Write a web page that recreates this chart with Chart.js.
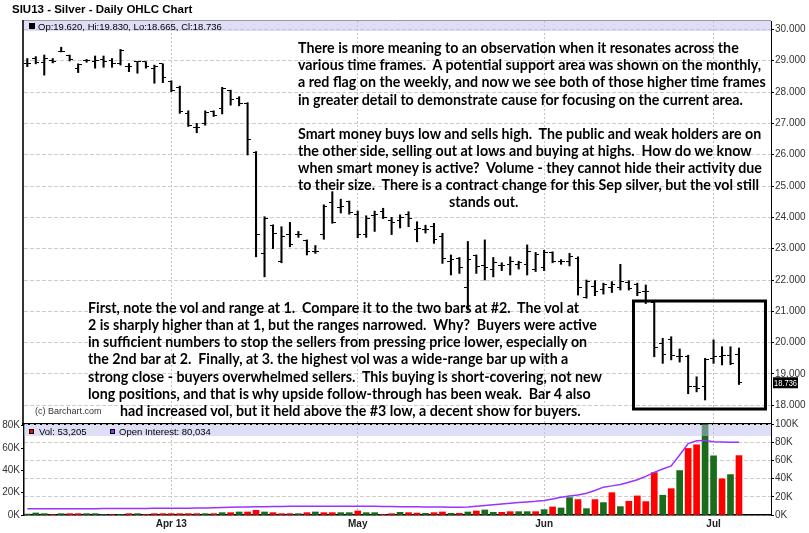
<!DOCTYPE html>
<html>
<head>
<meta charset="utf-8">
<title>SIU13 - Silver - Daily OHLC Chart</title>
<script src="https://cdn.jsdelivr.net/npm/chart.js@4.4.1/dist/chart.umd.min.js"></script>
<style>
  html, body { margin: 0; padding: 0; background: #fff; }
  #wrap { position: relative; width: 809px; height: 533px; overflow: hidden; }
  #wrap canvas { position: absolute; left: 0; top: 0; }
  .note { position: absolute; white-space: pre; font-family: Lato, sans-serif; font-weight: bold; color: #000; }
  .small { position: absolute; white-space: pre; font-family: "Liberation Sans", Arial, sans-serif; }
</style>
</head>
<body>
<div id="wrap">
  <canvas id="priceChart" width="809" height="533"></canvas>
  <canvas id="volChart" width="809" height="533"></canvas>
</div>
<script>
// trading days Mar 6 - Jul 5 2013
const dates = [
  '03/06','03/07','03/08','03/11','03/12','03/13','03/14','03/15','03/18','03/19','03/20','03/21','03/22','03/25','03/26','03/27','03/28',
  '04/01','04/02','04/03','04/04','04/05','04/08','04/09','04/10','04/11','04/12','04/15','04/16','04/17','04/18','04/19','04/22','04/23','04/24','04/25','04/26','04/29','04/30',
  '05/01','05/02','05/03','05/06','05/07','05/08','05/09','05/10','05/13','05/14','05/15','05/16','05/17','05/20','05/21','05/22','05/23','05/24','05/28','05/29','05/30','05/31',
  '06/03','06/04','06/05','06/06','06/07','06/10','06/11','06/12','06/13','06/14','06/17','06/18','06/19','06/20','06/21','06/24','06/25','06/26','06/27','06/28',
  '07/01','07/02','07/03','07/05'
];
const tickDates = ['04/01', '05/01', '06/03', '07/01'];
const tickLabels = ['Apr 13', 'May', 'Jun', 'Jul'];
const priceTicks = [18, 19, 20, 21, 22, 23, 24, 25, 26, 27, 28, 29, 30];
const volTicks = [0, 20, 40, 60, 80];
const oiTicks = [0, 20, 40, 60, 80, 100];

const opens = [
  28.90,29.07,28.94,29.00,29.29,29.15,28.76,29.00,28.98,29.05,29.02,28.92,28.80,28.97,28.97,28.75,28.90,
  28.33,28.15,27.33,26.87,26.98,27.38,27.48,28.05,27.80,27.64,26.07,22.85,23.73,22.60,23.45,23.45,23.25,22.90,23.45,24.47,24.30,24.50,
  24.10,23.45,24.05,24.20,23.90,23.90,24.10,23.62,23.62,23.70,23.40,22.60,22.70,21.75,22.78,22.45,22.35,22.45,22.50,22.50,22.50,22.35,
  22.40,22.87,22.60,22.60,22.70,21.45,21.80,21.70,21.75,21.75,21.92,21.85,21.64,21.28,19.98,20.10,19.55,19.57,18.60,18.60,
  19.50,19.55,19.60,19.62
];
const highs = [
  29.07,29.13,29.18,29.07,29.43,29.18,28.90,29.04,29.15,29.15,29.07,29.36,28.91,28.97,28.97,28.86,28.90,
  28.36,28.19,27.40,27.00,27.40,27.40,28.15,28.06,27.85,27.66,26.10,24.02,23.76,23.70,23.84,23.55,23.28,23.10,24.40,24.82,24.58,24.52,
  24.20,24.05,24.20,24.29,24.00,24.08,24.18,23.86,23.75,23.81,23.49,22.80,22.72,23.23,22.80,23.28,22.72,22.55,22.74,22.60,23.12,22.88,
  22.95,22.90,22.65,22.85,22.74,22.00,21.98,21.90,21.95,22.50,21.98,21.90,21.84,21.31,20.14,20.19,19.80,19.60,18.91,19.50,
  20.09,19.87,19.87,19.83
];
const lows = [
  28.81,28.90,28.54,28.93,29.28,28.99,28.62,28.95,28.76,28.79,28.79,28.86,28.65,28.60,28.76,28.28,28.30,
  28.01,27.32,26.90,26.70,26.94,27.22,27.30,27.58,27.56,25.99,22.74,22.10,23.00,22.55,23.06,23.36,22.80,22.85,23.30,23.81,24.14,24.10,
  23.35,23.36,23.55,23.96,23.45,23.66,23.70,23.22,23.50,23.17,22.53,22.16,22.21,21.04,22.21,22.00,22.10,22.30,22.16,22.35,22.16,22.27,
  22.30,22.55,22.50,22.45,21.52,21.42,21.50,21.55,21.60,21.68,21.68,21.50,21.25,19.55,19.34,19.45,19.38,18.37,18.43,18.17,
  19.34,19.29,19.30,18.665
];
const closes = [
  28.90,28.94,29.07,28.97,29.29,29.05,28.88,29.02,29.00,28.98,28.92,29.32,28.80,28.97,28.82,28.82,28.45,
  28.06,27.38,26.93,26.87,27.36,27.25,28.10,27.75,27.64,26.47,23.44,23.95,23.47,23.40,23.12,23.45,22.90,22.90,24.35,23.85,24.35,24.15,
  23.45,23.95,24.10,24.00,23.85,24.00,23.95,23.65,23.62,23.30,22.70,22.65,22.40,22.65,22.42,22.40,22.55,22.45,22.60,22.55,22.90,22.80,
  22.88,22.60,22.60,22.75,21.75,21.95,21.62,21.85,21.85,21.95,21.72,21.60,21.64,19.85,19.63,19.60,19.55,18.60,18.55,19.45,
  19.55,19.60,19.35,18.736
];
// volume in thousands of contracts, 1 = green (up) bar, 0 = red bar
const volume = [
  0.8,1.8,1.2,0.5,1.2,1.2,1.2,1.2,1.2,0.4,0.4,0.4,1.2,1.2,0.4,1.2,1.2,
  1.2,1.2,1.2,1.2,1.2,1.2,2.1,2.1,2.7,2.7,4.2,2.7,2.1,1.2,1.2,1.2,2.1,2.7,2.1,2.1,2.1,2.1,
  3.6,2.1,2.1,0.5,1.2,2.4,2.1,1.7,1.5,2.1,2.7,1.5,1.5,2.7,3.6,4.5,2.4,2.4,3.0,3.0,3.0,3.0,
  4.8,7.2,6.3,15.6,13.8,5.7,13.8,11.1,20.0,7.5,12.3,17.1,12.0,38.0,17.7,23.6,39.8,59.6,62.9,90.0,
  53.0,32.4,36.2,53.2
];
const volUp = [
  1,1,1,0,1,0,0,1,1,1,0,1,0,1,0,0,0,
  0,0,0,0,1,0,1,0,1,0,0,1,0,0,0,1,0,1,0,0,1,1,
  0,1,1,0,0,1,0,0,1,0,0,1,0,1,0,1,1,0,0,1,1,0,
  1,0,1,1,0,1,0,1,0,1,0,0,0,0,1,0,1,0,0,1,
  1,0,1,0
];
// open interest in thousands
const openInterest = [
  6.8,6.8,6.9,6.9,6.9,7.0,7.0,7.0,7.0,7.1,7.1,7.1,7.2,7.2,7.2,7.3,7.3,
  7.4,7.4,7.5,7.6,7.8,8.0,8.3,8.6,8.8,8.9,9.1,9.2,9.3,9.4,9.5,9.6,9.6,9.6,9.7,9.7,9.6,9.6,
  9.6,9.5,9.5,9.4,9.3,9.2,9.1,9.0,8.9,8.8,8.7,8.6,8.6,8.8,9.5,10.4,11.2,12.2,12.9,13.7,14.4,15.0,
  15.9,17.5,19.6,21.0,22.1,24.0,27.0,30.6,32.0,33.5,36.0,38.7,42.5,46.8,50.5,54.0,66.0,78.4,81.6,82.0,
  80.6,80.2,80.0,80.0
];
const lastVol = 53205;
const lastOI = 80034;

const notes = [
  { x: 298, y: 53, lines: [
    'There is more meaning to an observation when it resonates across the',
    'various time frames.  A potential support area was shown on the monthly,',
    'a red flag on the weekly, and now we see both of those higher time frames',
    'in greater detail to demonstrate cause for focusing on the current area.'] },
  { x: 298, y: 138.7, lines: [
    'Smart money buys low and sells high.  The public and weak holders are on',
    'the other side, selling out at lows and buying at highs.  How do we know',
    'when smart money is active?  Volume - they cannot hide their activity due',
    'to their size.  There is a contract change for this Sep silver, but the vol still'] },
  { x: 449, y: 207.5, lines: ['stands out.'] },
  { x: 88, y: 312.8, lines: [
    'First, note the vol and range at 1.  Compare it to the two bars at #2.  The vol at',
    '2 is sharply higher than at 1, but the ranges narrowed.  Why?  Buyers were active',
    'in sufficient numbers to stop the sellers from pressing price lower, especially on',
    'the 2nd bar at 2.  Finally, at 3. the highest vol was a wide-range bar up with a',
    'strong close - buyers overwhelmed sellers.  This buying is short-covering, not new',
    'long positions, and that is why upside follow-through has been weak.  Bar 4 also'] },
  { x: 120, y: 416, lines: ['had increased vol, but it held above the #3 low, a decent show for buyers.'] }
];

const idx = dates.map((d, i) => i);
const last = closes.length - 1;
const fmt = v => v.toLocaleString('en-US');
const small = (size, bold) => ({ family: 'Liberation Sans', size: size, weight: bold ? 'bold' : 'normal' });

const wrap = document.getElementById('wrap');
const mctx = document.createElement('canvas').getContext('2d');

// html text placed by baseline
function addText(text, x, baseline, font, lh, color, cls) {
  mctx.font = font;
  const m = mctx.measureText('Hg');
  const asc = m.fontBoundingBoxAscent, desc = m.fontBoundingBoxDescent;
  const el = document.createElement('div');
  el.className = cls;
  el.style.font = font;
  el.style.lineHeight = lh + 'px';
  el.style.color = color;
  el.style.left = x + 'px';
  el.style.top = (baseline - ((lh - (asc + desc)) / 2 + asc)) + 'px';
  el.textContent = text;
  wrap.appendChild(el);
}

mctx.font = 'bold 100px Lato';
const noteSize = 100 * 463 / mctx.measureText(notes[1].lines[3]).width;
notes.forEach(n => addText(n.lines.join('\n'), n.x, n.y, 'bold ' + noteSize + 'px Lato', 17.2, '#000', 'note'));
addText('SIU13 - Silver - Daily OHLC Chart', 12, 13.2, 'bold 11.5px "Liberation Sans"', 14, '#000', 'small');
addText('(c) Barchart.com', 35, 414.7, '9px "Liberation Sans"', 11, '#333', 'small');

function tickImg(left) {
  const c = document.createElement('canvas');
  c.width = 7; c.height = 1;
  const g = c.getContext('2d');
  g.fillStyle = '#000';
  g.fillRect(left ? 0 : 4, 0, 3, 1);
  return c;
}

const xBase = {
  type: 'linear', min: -0.39, max: 87.78, offset: false,
  afterBuildTicks: s => { s.ticks = tickDates.map(d => ({ value: dates.indexOf(d) })); }
};

const pricePanel = {
  id: 'pricePanel',
  afterDraw(chart) {
    const { ctx, chartArea: a } = chart;
    ctx.save();
    ctx.fillStyle = 'rgba(190,190,240,0.5)';
    ctx.fillRect(a.left, a.top, a.right - a.left, 10);
    ctx.strokeStyle = '#999'; ctx.lineWidth = 1;
    ctx.beginPath(); ctx.moveTo(a.left, a.top - 0.5); ctx.lineTo(a.right, a.top - 0.5); ctx.stroke();
    ctx.strokeStyle = '#333'; ctx.lineWidth = 2;
    ctx.beginPath(); ctx.moveTo(a.left - 1, a.top - 1); ctx.lineTo(a.left - 1, a.bottom); ctx.stroke();
    ctx.strokeStyle = '#000';
    ctx.beginPath(); ctx.moveTo(a.left - 2, a.bottom); ctx.lineTo(a.right, a.bottom); ctx.stroke();
    ctx.fillStyle = '#000';
    ctx.fillRect(a.left + 5, a.top + 2, 6, 6);
    ctx.font = '9.5px "Liberation Sans"';
    ctx.fillText('Op:' + opens[last].toFixed(3) + ', Hi:' + highs[last].toFixed(3) + ', Lo:' + lows[last].toFixed(3) + ', Cl:' + closes[last].toFixed(3), a.left + 14, a.top + 8.5);
    // marked area
    ctx.lineWidth = 3;
    ctx.strokeRect(633.5, 301, 132, 108);
    // last price tag
    const y = chart.scales.y.getPixelForValue(closes[last]);
    ctx.fillRect(a.right + 2, y - 5, 25, 11);
    ctx.fillStyle = '#fff';
    ctx.font = '9.5px "Liberation Sans"';
    ctx.fillText(closes[last].toFixed(3), a.right + 3, y + 3.5, 23);
    ctx.restore();
  }
};

const volPanel = {
  id: 'volPanel',
  afterDatasetsDraw(chart) {
    const { ctx, chartArea: a } = chart;
    ctx.save();
    ctx.fillStyle = 'rgba(190,190,240,0.5)';
    ctx.fillRect(a.left, a.top + 1, a.right - a.left, 11);
    ctx.lineWidth = 1; ctx.strokeStyle = '#000';
    ctx.fillStyle = '#ff0000';
    ctx.fillRect(a.left + 5, a.top + 5, 5, 5); ctx.strokeRect(a.left + 5.5, a.top + 5.5, 4, 4);
    ctx.fillStyle = '#9933ff';
    ctx.fillRect(a.left + 86, a.top + 5, 5, 5); ctx.strokeRect(a.left + 86.5, a.top + 5.5, 4, 4);
    ctx.fillStyle = '#000';
    ctx.font = '9.5px "Liberation Sans"';
    ctx.fillText('Vol: ' + fmt(lastVol), a.left + 15, a.top + 10.5);
    ctx.fillText('Open Interest: ' + fmt(lastOI), a.left + 95, a.top + 10.5);
    ctx.restore();
  }
};

new Chart(document.getElementById('priceChart'), {
  type: 'bar',
  data: {
    datasets: [
      { label: 'Range', data: idx.map(i => ({ x: i, y: [lows[i], highs[i]] })), backgroundColor: '#000', barThickness: 1.4, order: 2 },
      { type: 'line', label: 'Open', data: idx.map(i => ({ x: i, y: opens[i] })), showLine: false, pointStyle: tickImg(true), pointRadius: 3, order: 1 },
      { type: 'line', label: 'Close', data: idx.map(i => ({ x: i, y: closes[i] })), showLine: false, pointStyle: tickImg(false), pointRadius: 3, order: 0 }
    ]
  },
  options: {
    responsive: false, animation: false, events: [],
    layout: { padding: { top: 21, left: 24, right: 0, bottom: 109 } },
    plugins: { legend: { display: false }, tooltip: { enabled: false } },
    scales: {
      x: Object.assign({}, xBase, {
        afterFit: s => { s.height = 0; },
        ticks: { display: false },
        grid: { color: '#c4c4c4', drawTicks: false, offset: false },
        border: { display: false, dash: [2, 2] }
      }),
      y: {
        type: 'linear', position: 'right', min: 17.404, max: 30.267,
        afterBuildTicks: s => { s.ticks = priceTicks.map(v => ({ value: v })); },
        afterFit: s => { s.width = 38; },
        ticks: { callback: v => v.toFixed(3), color: '#333', font: small(10), padding: 1 },
        grid: { color: '#cdcdcd', tickLength: 3, tickColor: '#000' },
        border: { color: '#000', width: 1, dash: [4, 2] }
      }
    }
  },
  plugins: [pricePanel]
});

new Chart(document.getElementById('volChart'), {
  type: 'bar',
  data: {
    datasets: [
      { type: 'line', label: 'Open Interest', data: idx.map(i => ({ x: i, y: openInterest[i] })), yAxisID: 'yOI',
        borderColor: '#9933ff', borderWidth: 1.5, pointRadius: 0, tension: 0, order: 0 },
      { label: 'Vol', data: idx.map(i => ({ x: i, y: volume[i] })), yAxisID: 'yVol',
        backgroundColor: volUp.map(u => u ? '#1a6b1a' : '#ff0000'), barThickness: 6, order: 1 }
    ]
  },
  options: {
    responsive: false, animation: false, events: [],
    layout: { padding: { top: 424, left: 0, right: 0, bottom: 0 } },
    plugins: { legend: { display: false }, tooltip: { enabled: false } },
    scales: {
      x: Object.assign({}, xBase, {
        afterFit: s => { s.height = 18; },
        ticks: { callback: (v, i) => tickLabels[i], maxRotation: 0, autoSkip: false, color: '#222', font: small(10, true), padding: 3 },
        grid: { color: '#c4c4c4', drawTicks: false, offset: false },
        border: { color: '#000', width: 1.5, dash: [2, 2] }
      }),
      yVol: {
        type: 'linear', position: 'left', min: 0, max: 81.5,
        afterBuildTicks: s => { s.ticks = volTicks.map(v => ({ value: v })); },
        afterFit: s => { s.width = 24; },
        ticks: { callback: v => v + 'K', color: '#333', font: small(10), padding: 1 },
        grid: { drawOnChartArea: false, tickLength: 3, tickColor: '#000' },
        border: { color: '#000', width: 1.5 }
      },
      yOI: {
        type: 'linear', position: 'right', min: 0, max: 100,
        afterBuildTicks: s => { s.ticks = oiTicks.map(v => ({ value: v })); },
        afterFit: s => { s.width = 38; },
        ticks: { callback: v => v + 'K', color: '#333', font: small(10), padding: 1 },
        grid: { color: '#cdcdcd', tickLength: 3, tickColor: '#000' },
        border: { color: '#000', width: 1, dash: [4, 2] }
      }
    }
  },
  plugins: [volPanel]
});
</script>
</body>
</html>
